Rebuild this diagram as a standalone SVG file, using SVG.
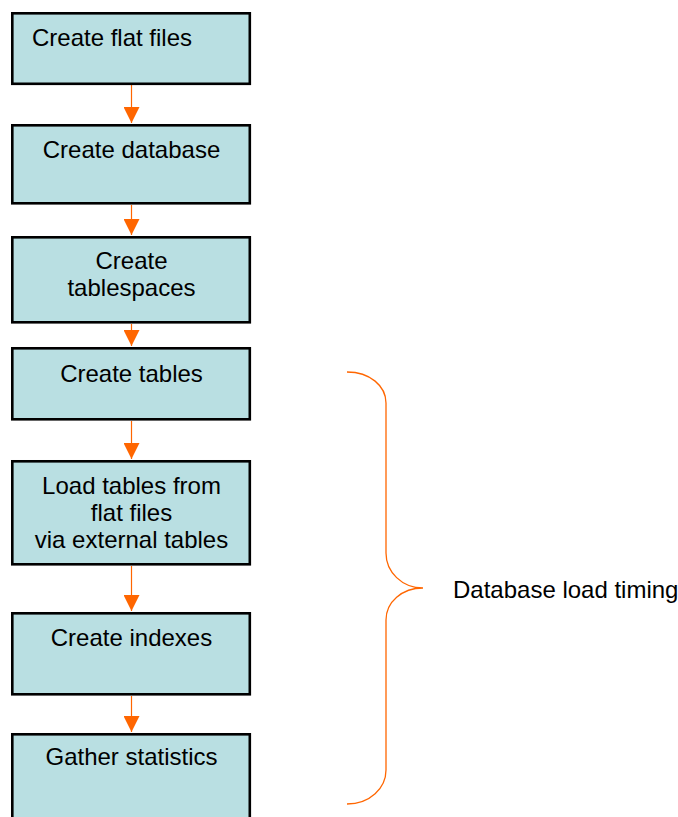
<svg xmlns="http://www.w3.org/2000/svg" width="678" height="817" viewBox="0 0 678 817">
<style>
.box{fill:#B9DFE2;stroke:#000;stroke-width:2.6}
.t{font-family:"Liberation Sans",Arial,sans-serif;font-size:24px;fill:#000;text-anchor:middle}
.ln{stroke:#FF6600;stroke-width:1.2;fill:none}
.br{stroke:#FF6600;stroke-width:1.3;fill:none}
</style>
<defs>
<marker id="ah" markerWidth="16" markerHeight="16" viewBox="0 0 16 16" refX="16" refY="8" orient="auto" markerUnits="userSpaceOnUse">
<path d="M0,0 L16,8 L0,16 Z" fill="#FF6600"/>
</marker>
</defs>
<rect width="678" height="817" fill="#fff"/>
<g id="connectors">
<line class="ln" x1="131.5" y1="85" x2="131.5" y2="123" marker-end="url(#ah)"/>
<line class="ln" x1="131.5" y1="205" x2="131.5" y2="235" marker-end="url(#ah)"/>
<line class="ln" x1="131.5" y1="324" x2="131.5" y2="346" marker-end="url(#ah)"/>
<line class="ln" x1="131.5" y1="421" x2="131.5" y2="459" marker-end="url(#ah)"/>
<line class="ln" x1="131.5" y1="566" x2="131.5" y2="611" marker-end="url(#ah)"/>
<line class="ln" x1="131.5" y1="696" x2="131.5" y2="732" marker-end="url(#ah)"/>
</g>
<g id="n1"><rect class="box" x="12.3" y="13.3" width="237.5" height="70.5"/><text class="t" x="112" y="46">Create flat files</text></g>
<g id="n2"><rect class="box" x="12.3" y="125.3" width="237.5" height="78"/><text class="t" x="131.5" y="158">Create database</text></g>
<g id="n3"><rect class="box" x="12.3" y="237.3" width="237.5" height="85"/><text class="t" x="131.5" y="269">Create</text><text class="t" x="131.5" y="296">tablespaces</text></g>
<g id="n4"><rect class="box" x="12.3" y="348.3" width="237.5" height="71"/><text class="t" x="131.5" y="382">Create tables</text></g>
<g id="n5"><rect class="box" x="12.3" y="461.3" width="237.5" height="103"/><text class="t" x="131.5" y="494">Load tables from</text><text class="t" x="131.5" y="521">flat files</text><text class="t" x="131.5" y="548">via external tables</text></g>
<g id="n6"><rect class="box" x="12.3" y="613.3" width="237.5" height="81"/><text class="t" x="131.5" y="646">Create indexes</text></g>
<g id="n7"><rect class="box" x="12.3" y="734.3" width="237.5" height="100"/><text class="t" x="131.5" y="765">Gather statistics</text></g>
<g id="brace">
<path class="br" d="M347,372 C370,372 386,386 386,403 L386,553 C386,572 402,588 423,588 C402,588 386,602 386,620 L386,770 C386,788 370,804 347,804"/>
</g>
<g id="label"><text x="453" y="598" style="font-family:'Liberation Sans',Arial,sans-serif;font-size:24px;fill:#000">Database load timing</text></g>
</svg>
